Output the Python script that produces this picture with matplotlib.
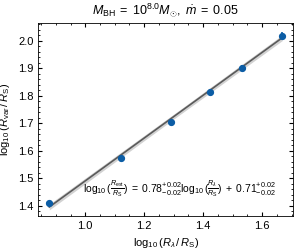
import matplotlib
matplotlib.use("Agg")
import matplotlib.pyplot as plt
import numpy as np

plt.rcParams.update({
    "font.family": ["Liberation Sans", "DejaVu Sans"],
    "mathtext.fontset": "custom",
    "mathtext.rm": "Liberation Sans",
    "mathtext.it": "Liberation Sans:italic",
    "mathtext.bf": "Liberation Sans:bold",
    "font.size": 8,
    "xtick.direction": "in",
    "ytick.direction": "in",
    "xtick.top": True,
    "ytick.right": True,
    "xtick.minor.visible": True,
    "ytick.minor.visible": True,
    "xtick.major.size": 3,
    "ytick.major.size": 3,
    "xtick.minor.size": 1.5,
    "ytick.minor.size": 1.5,
    "axes.linewidth": 0.6,
})

x_vals = [0.878, 1.121, 1.290, 1.424, 1.530, 1.668]
y_vals = [1.408, 1.572, 1.703, 1.813, 1.900, 2.019]
y_err = [0.008, 0.008, 0.009, 0.009, 0.011, 0.013]
slope, intercept = 0.78, 0.71
slope_err, intercept_err = 0.02, 0.02

fig = plt.figure(figsize=(3.0, 2.5), dpi=100)
ax = fig.add_axes([0.128, 0.136, 0.849, 0.772])

xf = np.linspace(min(x_vals), max(x_vals), 100)
yf = slope * xf + intercept
band = 0.009 + 0.004 * np.abs(xf - np.mean(x_vals))
ax.fill_between(xf, yf - band, yf + band, color="silver", alpha=0.7, lw=0)
ax.plot(xf, yf, color="#5a5a5a", lw=1.2)
ax.errorbar(x_vals, y_vals, yerr=y_err, fmt="o", color="#0C5DA5", ms=4.2, elinewidth=1.2, capsize=0)

ax.set_xlim(0.841, 1.705)
ax.set_ylim(1.362, 2.065)
ax.set_xticks([1.0, 1.2, 1.4, 1.6])
ax.set_yticks([1.4, 1.5, 1.6, 1.7, 1.8, 1.9, 2.0])
ax.xaxis.set_minor_locator(matplotlib.ticker.MultipleLocator(0.05))
ax.yaxis.set_minor_locator(matplotlib.ticker.MultipleLocator(0.02))

ax.set_xlabel(r"$\log_{10}(R_{\lambda}\,/\,R_{\rm S})$")
ax.set_ylabel(r"$\log_{10}(R_{\rm var}\,/\,R_{\rm S})$")
ax.set_title(r"$M_{\rm BH}\;=\;10^{8.0}M_{\odot},\ \dot{m}\;=\;0.05$", fontsize=9)

ax.text(1.32, 1.463,
        r"$\log_{10}(\frac{R_{\rm est}}{R_{\rm S}})\;=\;0.78^{+0.02}_{-0.02}\log_{10}(\frac{R_{\lambda}}{R_{\rm S}})\;+\;0.71^{+0.02}_{-0.02}$",
        ha="center", va="center", fontsize=7.5)

fig.savefig("out.png", dpi=100)
